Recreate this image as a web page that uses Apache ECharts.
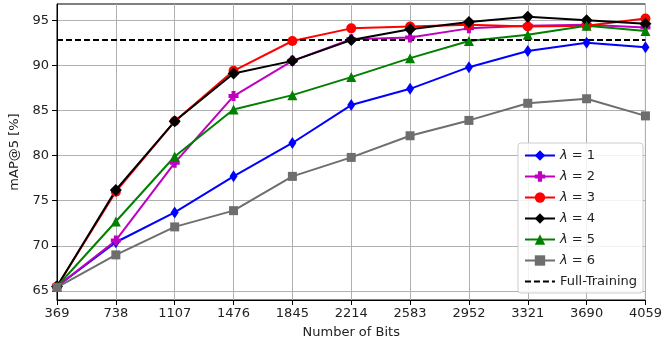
<!DOCTYPE html>
<html><head><meta charset="utf-8">
<script src="https://cdn.jsdelivr.net/npm/echarts@6/dist/echarts.min.js"></script>
<style>html,body{margin:0;padding:0;background:#fff}#c{width:665px;height:347px}</style>
</head><body><div id="c"></div>
<script>
const bits = [369, 738, 1107, 1476, 1845, 2214, 2583, 2952, 3321, 3690, 4059];
const lam1 = [65.5, 70.4, 73.7, 77.7, 81.4, 85.6, 87.4, 89.8, 91.6, 92.5, 92.0];
const lam2 = [65.5, 70.6, 79.2, 86.6, 90.5, 92.9, 93.1, 94.1, 94.4, 94.5, 94.2];
const lam3 = [65.5, 76.0, 83.8, 89.4, 92.7, 94.1, 94.3, 94.5, 94.3, 94.4, 95.2];
const lam4 = [65.5, 76.2, 83.8, 89.1, 90.5, 92.8, 94.0, 94.8, 95.4, 95.0, 94.6];
const lam5 = [65.5, 72.7, 79.9, 85.1, 86.7, 88.7, 90.8, 92.7, 93.4, 94.4, 93.8];
const lam6 = [65.4, 69.0, 72.1, 73.9, 77.7, 79.8, 82.2, 83.9, 85.8, 86.3, 84.4];
const fullTraining = 92.8;
const yTicks = [65, 70, 75, 80, 85, 90, 95];
const names = ['λ = 1', 'λ = 2', 'λ = 3', 'λ = 4', 'λ = 5', 'λ = 6', 'Full-Training'];

const plus = 'path://M3,0 L7,0 L7,3 L10,3 L10,7 L7,7 L7,10 L3,10 L3,7 L0,7 L0,3 L3,3 Z';
const specs = [
  {d: lam1, c: '#0000ff', sym: 'diamond', size: [8, 12]},
  {d: lam2, c: '#bf00bf', sym: plus, size: 10},
  {d: lam3, c: '#ff0000', sym: 'circle', size: 10},
  {d: lam4, c: '#000000', sym: 'diamond', size: 12},
  {d: lam5, c: '#008000', sym: 'triangle', size: 10},
  {d: lam6, c: '#6e6e6e', sym: 'rect', size: 9}
];
const series = specs.map((s, i) => ({
  name: names[i], type: 'line', data: bits.map((b, j) => [b, s.d[j]]),
  symbol: s.sym, symbolSize: s.size, showAllSymbol: true,
  lineStyle: {color: s.c, width: 2}, itemStyle: {color: s.c}, color: s.c,
  emphasis: {disabled: true}, animation: false
}));
series.push({
  name: names[6], type: 'line', data: [[bits[0], fullTraining], [bits[bits.length - 1], fullTraining]],
  symbol: 'none', lineStyle: {color: '#000', width: 2, type: [6, 3]}, color: '#000',
  emphasis: {disabled: true}, animation: false
});

const chart = echarts.init(document.getElementById('c'));
const font = 'DejaVu Sans';
chart.setOption({
  animation: false,
  grid: {left: 54, right: 14, top: 4, bottom: 47, show: true, borderColor: '#000', borderWidth: 1},
  xAxis: {
    type: 'value', min: 369, max: 4059, interval: 369,
    name: 'Number of Bits', nameLocation: 'middle', nameGap: 26,
    nameTextStyle: {fontFamily: font, fontSize: 13, color: '#222'},
    axisLine: {lineStyle: {color: '#000'}},
    axisTick: {show: true, length: 5, lineStyle: {color: '#000'}},
    axisLabel: {fontFamily: font, fontSize: 13, color: '#222', margin: 7, formatter: v => String(v)},
    splitLine: {show: true, lineStyle: {color: '#b0b0b0', width: 1}}
  },
  yAxis: {
    type: 'value', min: 64, max: 96.8,
    name: 'mAP@5 [%]', nameLocation: 'middle', nameGap: 36,
    nameTextStyle: {fontFamily: font, fontSize: 13, color: '#222'},
    axisLine: {show: true, lineStyle: {color: '#000'}},
    axisTick: {show: true, length: 5, lineStyle: {color: '#000'}, customValues: yTicks},
    axisLabel: {fontFamily: font, fontSize: 13, color: '#222', margin: 8, customValues: yTicks},
    splitLine: {show: true, lineStyle: {color: '#b0b0b0', width: 1}}
  },
  legend: {
    orient: 'vertical', right: 22, bottom: 54, itemGap: 8, itemWidth: 30, itemHeight: 13,
    backgroundColor: 'rgba(255,255,255,0.85)', borderColor: '#cccccc', borderWidth: 1, borderRadius: 3,
    padding: [6, 6, 5, 6],
    data: names.map((n, i) => i === 6 ? {name: n, itemStyle: {opacity: 0}} : n),
    formatter: n => n.startsWith('λ') ? '{i|λ}{t|' + n.slice(1) + '}' : '{t|' + n + '}',
    textStyle: {
      fontFamily: font, fontSize: 13, color: '#222',
      rich: {i: {fontFamily: font, fontStyle: 'italic', fontSize: 13, color: '#222'}, t: {fontFamily: font, fontSize: 13, color: '#222'}}
    }
  },
  series: series
});
</script></body></html>
